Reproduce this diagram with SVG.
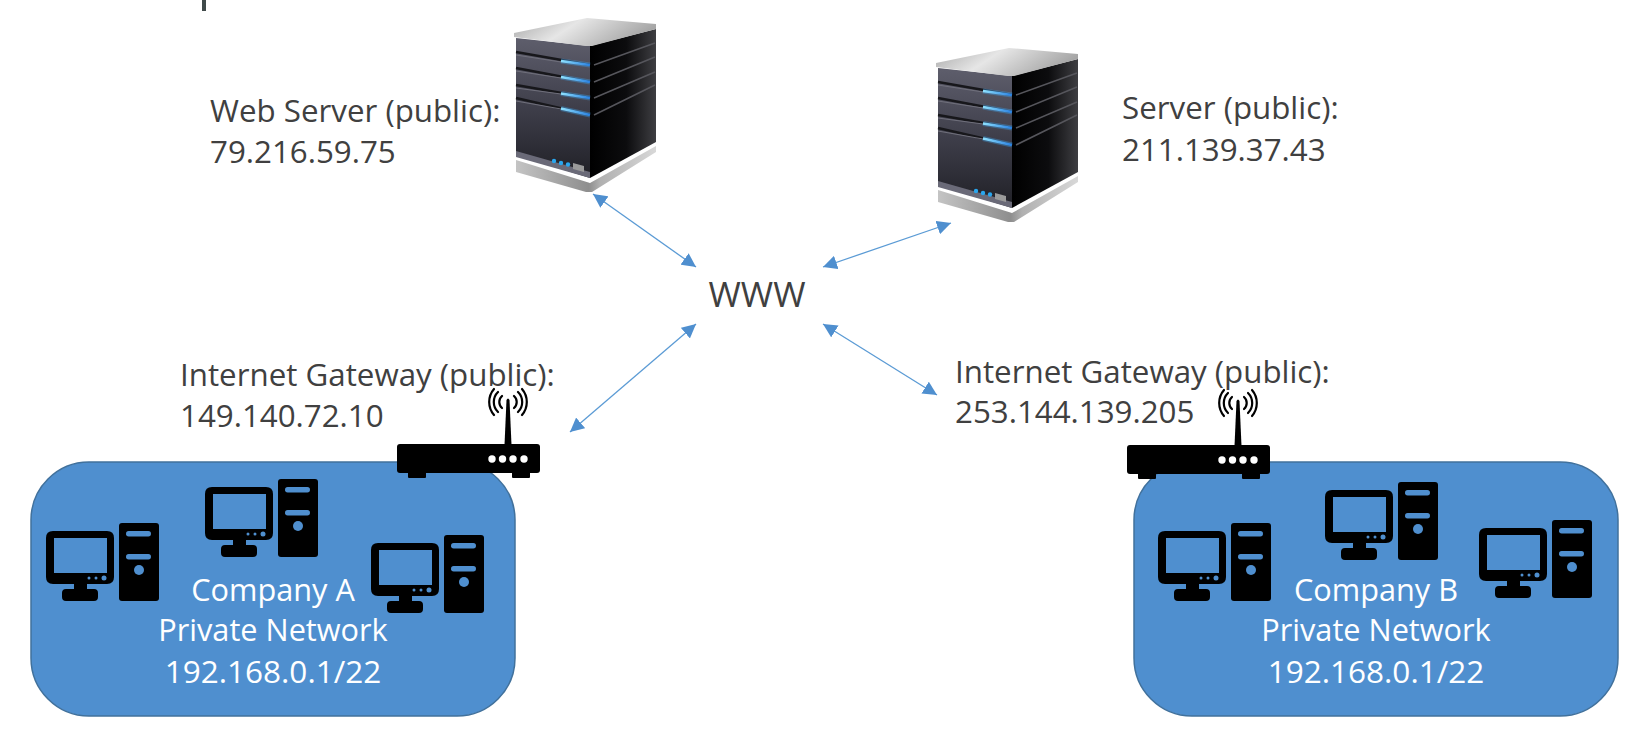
<svg xmlns="http://www.w3.org/2000/svg" width="1651" height="733" viewBox="0 0 1651 733">
<style>
.t{font-family:"Open Sans","Noto Sans","Liberation Sans",sans-serif;font-size:31.300px;fill:#404040}
.w{font-family:"Open Sans","Noto Sans","Liberation Sans",sans-serif;font-size:30.700px;fill:#fff;text-anchor:middle}
.net{fill:#4f8fcf;stroke:#41719c;stroke-width:1.5}
.c{stroke:#5b9bd5;stroke-width:1.3;fill:none;marker-start:url(#a);marker-end:url(#a)}
.wave{fill:none;stroke:#000;stroke-width:2.2;stroke-linecap:round}
</style>
<defs>
<marker id="a" viewBox="0 0 10 10" refX="10" refY="5" markerWidth="14" markerHeight="14" markerUnits="userSpaceOnUse" orient="auto-start-reverse"><path d="M0 0L10 5L0 10Z" fill="#4f8fcf"/></marker>
<linearGradient id="top" x1="0" y1="0" x2="1" y2="0.3"><stop offset="0" stop-color="#a8a8a8"/><stop offset=".45" stop-color="#e6e6e6"/><stop offset="1" stop-color="#a6a6a6"/></linearGradient>
<linearGradient id="front" x1="0" y1="0" x2="0" y2="1"><stop offset="0" stop-color="#5e5e6c"/><stop offset=".5" stop-color="#3e3e4a"/><stop offset="1" stop-color="#202026"/></linearGradient>
<linearGradient id="side" x1="0" y1="0" x2="1" y2="0"><stop offset="0" stop-color="#000"/><stop offset=".55" stop-color="#0c0c0e"/><stop offset="1" stop-color="#3e3e42"/></linearGradient>
<linearGradient id="base" x1="0" y1="0" x2="1" y2="0"><stop offset="0" stop-color="#c4c4c4"/><stop offset=".52" stop-color="#8e8e8e"/><stop offset=".6" stop-color="#b0b0b0"/><stop offset="1" stop-color="#d8d8d8"/></linearGradient>
<linearGradient id="led" x1="0" y1="0" x2="1" y2="0"><stop offset="0" stop-color="#8fe2ff"/><stop offset="1" stop-color="#2a80e0"/></linearGradient>
<g id="server">
<path d="M516 160L590 183L656 146V152L592 192L586 192L516 172Z" fill="url(#base)"/>
<path d="M516 38L590 46V178L516 155Z" fill="url(#front)"/>
<path d="M590 46L656 29V142L590 178Z" fill="url(#side)"/>
<path d="M514 33L587 18L656 24V29L592 46L586 46L514 37Z" fill="url(#top)"/>
<g fill="none" stroke="#17171b" stroke-width="2.4">
<path d="M516 52L590 65M516 68L590 82M516 85L590 98M516 98L590 115"/>
</g>
<g fill="none" stroke="#70707c" stroke-width="1">
<path d="M516 55L561 62M516 71L561 78M516 88L561 94M516 101L561 109"/>
</g>
<g fill="none" stroke="#56565c" stroke-width="1.6">
<path d="M594 65L655 43M594 82L655 57M594 98L655 72M594 115L655 85"/>
</g>
<g fill="none" stroke="#3fa9f5" stroke-opacity=".35" stroke-width="5">
<path d="M561 61L590 65M561 77L590 82M561 93.500L590 98M561 108.500L590 115"/>
</g>
<g fill="none" stroke="url(#led)" stroke-width="2.600">
<path d="M561 61L590 65M561 77L590 82M561 93.500L590 98M561 108.500L590 115"/>
</g>
<path d="M516 151L590 172V178L516 157Z" fill="#6a6a78"/>
<g fill="#2aa6ee"><circle cx="554" cy="161" r="2.200"/><circle cx="561" cy="163" r="2.200"/><circle cx="568" cy="164.500" r="2.200"/></g>
<path d="M573 163L584 166V172L573 169Z" fill="#9a9a9a"/>
</g>
<g id="pc">
<path fill-rule="evenodd" d="M7 8H61Q68 8 68 15V54Q68 61 61 61H41V66H48Q52 66 52 70V74Q52 78 48 78H20Q16 78 16 74V70Q16 66 20 66H28V61H7Q0 61 0 54V15Q0 8 7 8ZM8 15V50H61V15Z"/>
<rect x="73" y="0" width="40" height="78" rx="3"/>
<rect x="80" y="8" width="25" height="5.500" rx="2.700" fill="#4f8fcf"/>
<rect x="80" y="31" width="25" height="5.500" rx="2.700" fill="#4f8fcf"/>
<circle cx="93" cy="47" r="5" fill="#4f8fcf"/>
<circle cx="58" cy="55" r="2.500" fill="#4f8fcf"/><circle cx="50" cy="55" r="1.500" fill="#4f8fcf"/><circle cx="43" cy="55" r="1.500" fill="#4f8fcf"/>
</g>
<g id="router">
<rect x="397" y="444" width="143" height="29" rx="3"/>
<rect x="408" y="470" width="18" height="8" rx="1"/><rect x="512" y="470" width="18" height="8" rx="1"/>
<path d="M506.500 400Q508 397 509.500 400L511.500 445H504.500Z"/>
<g fill="#fff"><circle cx="492" cy="459" r="3.700"/><circle cx="502.500" cy="459" r="3.700"/><circle cx="513" cy="459" r="3.700"/><circle cx="524" cy="459" r="3.700"/></g>
<path class="wave" d="M502 396A8 8 0 0 0 502 408M514 396A8 8 0 0 1 514 408M498 392A14 14 0 0 0 498 412M518 392A14 14 0 0 1 518 412M494 389A20 20 0 0 0 494 415M522 389A20 20 0 0 1 522 415"/>
</g>
</defs>
<rect x="202" y="0" width="4" height="11" fill="#404a4a"/>
<g id="connectors">
<path class="c" d="M593 194L696 267"/>
<path class="c" d="M823 267L951 223"/>
<path class="c" d="M696 324L570 432"/>
<path class="c" d="M823 324L937 395"/>
</g>
<g id="web-server"><use href="#server"/><text class="t" x="210" y="122">Web Server (public):</text><text class="t" x="210" y="163">79.216.59.75</text></g>
<g id="server-public"><use href="#server" x="422" y="30"/><text class="t" x="1122" y="119">Server (public):</text><text class="t" x="1122" y="161">211.139.37.43</text></g>
<g id="www"><text class="t" x="757" y="307" text-anchor="middle" style="font-size:35px">WWW</text></g>
<g id="company-a">
<rect class="net" x="31" y="462" width="484" height="254" rx="58"/>
<use href="#pc" x="46" y="523"/><use href="#pc" x="205" y="479"/><use href="#pc" x="371" y="535"/>
<text class="w" x="273" y="601">Company A</text><text class="w" x="273" y="641">Private Network</text><text class="w" x="273" y="683" style="font-size:31.500px">192.168.0.1/22</text>
</g>
<g id="company-b">
<rect class="net" x="1134" y="462" width="484" height="254" rx="58"/>
<use href="#pc" x="1158" y="523"/><use href="#pc" x="1325" y="482"/><use href="#pc" x="1479" y="520"/>
<text class="w" x="1376" y="601">Company B</text><text class="w" x="1376" y="641">Private Network</text><text class="w" x="1376" y="683" style="font-size:31.500px">192.168.0.1/22</text>
</g>
<g id="gateway-a"><text class="t" x="180" y="386">Internet Gateway (public):</text><text class="t" x="180" y="427">149.140.72.10</text><use href="#router"/></g>
<g id="gateway-b"><text class="t" x="955" y="383">Internet Gateway (public):</text><text class="t" x="955" y="423">253.144.139.205</text><use href="#router" x="730" y="1"/></g>
</svg>
